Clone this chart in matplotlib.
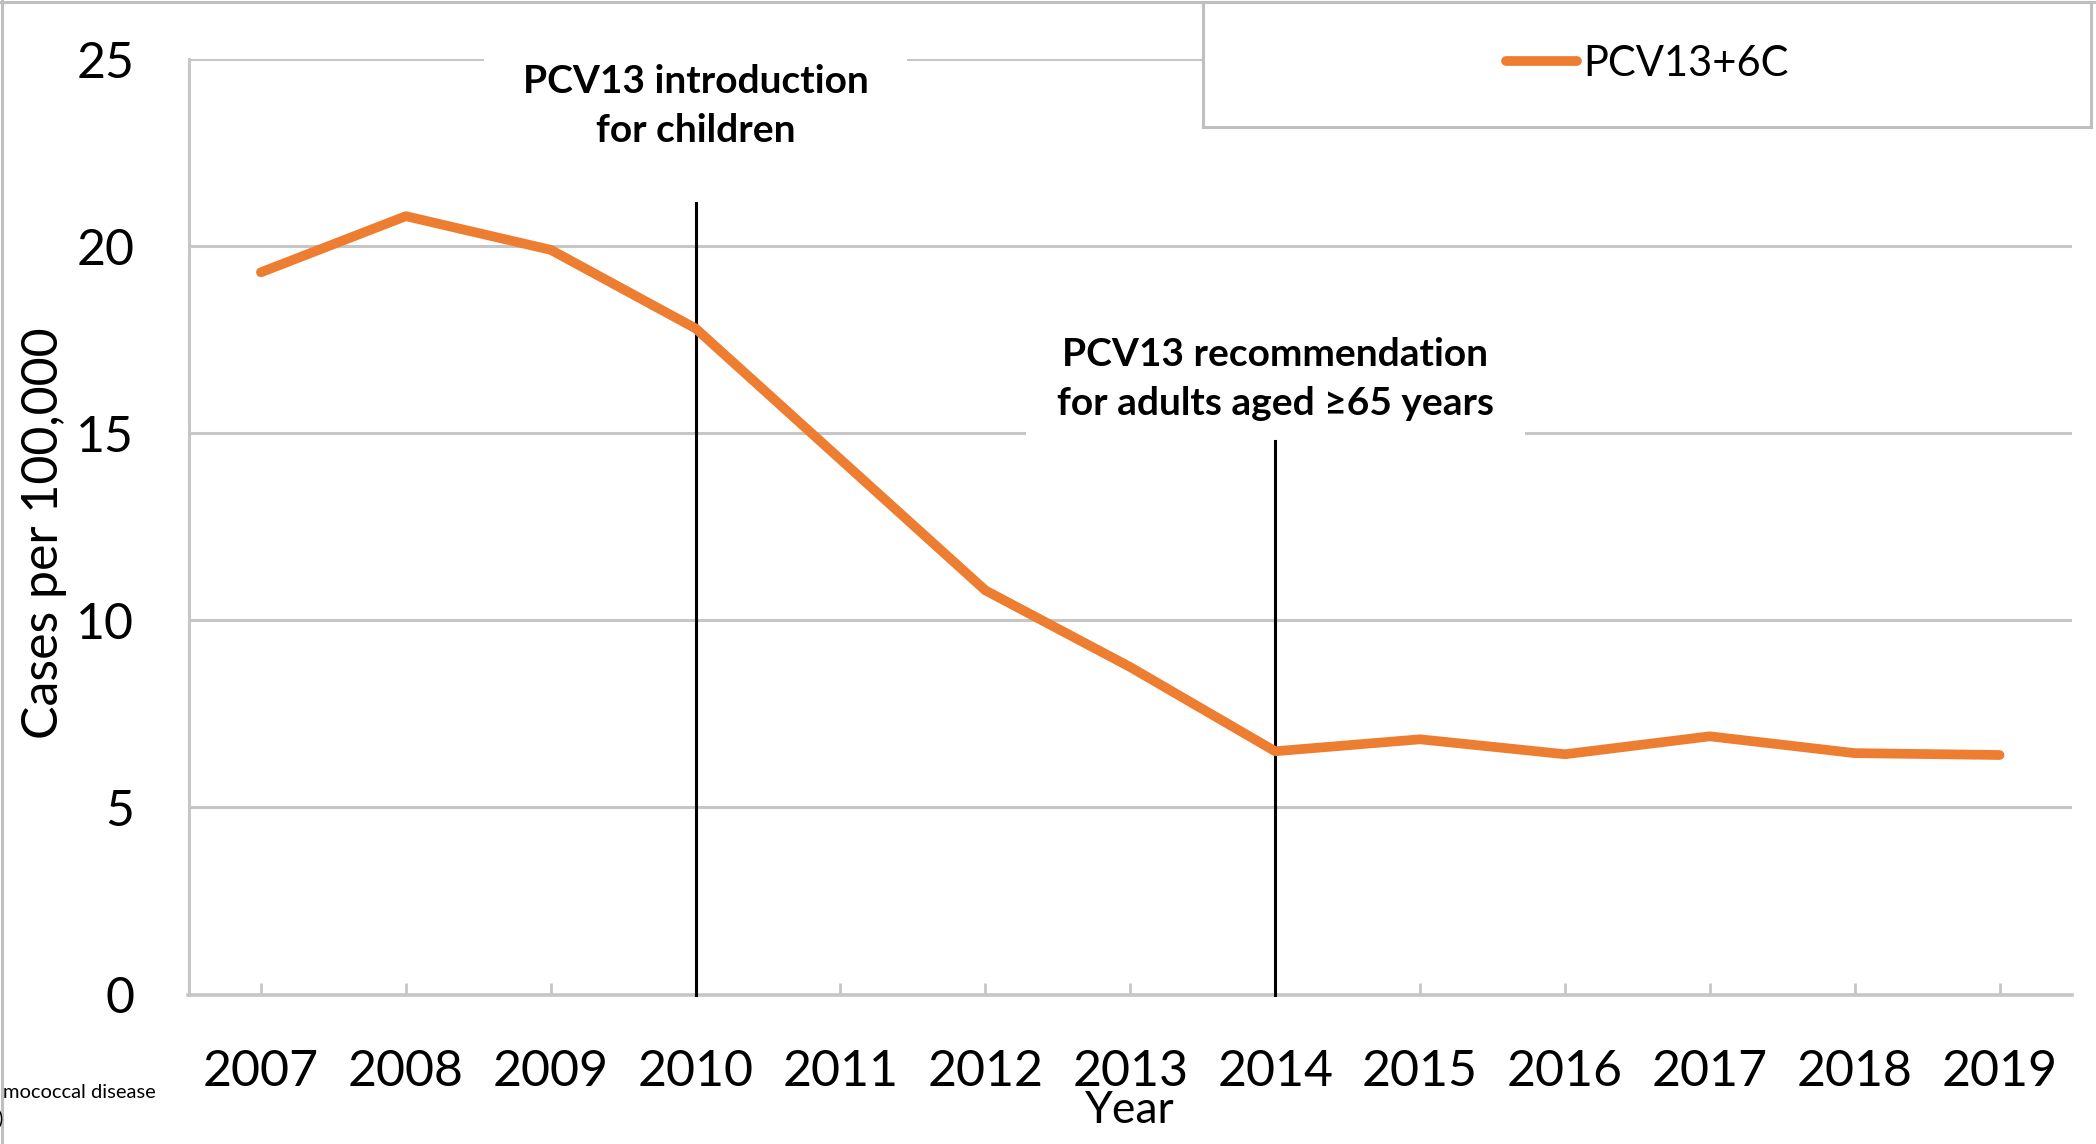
import matplotlib
matplotlib.use('Agg')
import matplotlib.pyplot as plt
from matplotlib.patches import Rectangle
from matplotlib.lines import Line2D

plt.rcParams['font.family'] = ['Lato', 'DejaVu Sans']

# data
years = [2007, 2008, 2009, 2010, 2011, 2012, 2013, 2014, 2015, 2016, 2017, 2018, 2019]
cases = [19.3, 20.8, 19.9, 17.8, 14.3, 10.8, 8.75, 6.5, 6.82, 6.42, 6.9, 6.45, 6.4]
series_name = 'PCV13+6C'
event_years = [2010, 2014]
event_tops = [21.15, 14.8]
event_labels = ['PCV13 introduction\nfor children',
                'PCV13 recommendation\nfor adults aged \u226565 years']
event_label_y = [23.75, 16.45]
y_ticks = [0, 5, 10, 15, 20, 25]

W, H = 2096, 1144
orange = '#ED7D31'
grid_gray = '#C6C6C6'
label_pads = [1.0, 0.8]

fig = plt.figure(figsize=(W / 100, H / 100), dpi=100)
ax = fig.add_axes([188.5 / W, 149.5 / H, (2072 - 188.5) / W, 935.5 / H])

ax.set_xlim(2006.5, 2019.5)
ax.set_ylim(0, 25)
ax.set_yticks(y_ticks)
ax.set_xticks(years)
ax.set_xticklabels([str(y) for y in years])
ax.yaxis.grid(True, color=grid_gray, lw=2.2, zorder=0)
ax.set_axisbelow(True)

for s in ['top', 'right']:
    ax.spines[s].set_visible(False)
ax.spines['left'].set_color(grid_gray)
ax.spines['left'].set_linewidth(2.2)
ax.spines['bottom'].set_color(grid_gray)
ax.spines['bottom'].set_linewidth(2.6)

ax.tick_params(axis='y', length=0, pad=39, labelsize=36)
ax.tick_params(axis='x', direction='in', length=8.6, width=2, color=grid_gray,
               pad=39, labelsize=36)

# data line
line, = ax.plot(years, cases, color=orange, lw=7, solid_capstyle='round',
                solid_joinstyle='round', zorder=5, label=series_name)

# vertical event lines and their labels (white box hides the gridline behind)
for yr, top, lab, ly, pad in zip(event_years, event_tops, event_labels,
                                 event_label_y, label_pads):
    ax.plot([yr, yr], [0, top], color='black', lw=2.2, zorder=4, clip_on=False)
    ax.text(yr, ly, lab, fontsize=28, fontweight='bold', ha='center', va='center',
            linespacing=1.5, zorder=3,
            bbox=dict(boxstyle=f'square,pad={pad}', facecolor='white', edgecolor='none'))

ax.set_xlabel('Year', fontsize=32, va='center')
ax.xaxis.set_label_coords(0.5, -0.1245)
ax.set_ylabel('Cases per 100,000', fontsize=36, va='center')
ax.yaxis.set_label_coords(-0.0767, 0.493)

# legend box
box = Rectangle((1203 / W, 1 - 127 / H), (2091 - 1203) / W, 125 / H,
                transform=fig.transFigure, facecolor='white', edgecolor='#BFBFBF',
                lw=2.2, zorder=10)
fig.patches.append(box)
leg = fig.legend(handles=[line], loc='center', frameon=False, fontsize=30,
                 handlelength=1.7, handletextpad=0.15,
                 bbox_to_anchor=((1203 + 2091) / 2 / W, 1 - 64 / H),
                 bbox_transform=fig.transFigure)
leg.set_zorder(11)

# figure border (top and left)
fig.lines.append(Line2D([0, 1], [1 - 1.5 / H, 1 - 1.5 / H], transform=fig.transFigure,
                        color='#BFBFBF', lw=2.2))
fig.lines.append(Line2D([1.5 / W, 1.5 / W], [0, 1], transform=fig.transFigure,
                        color='#BFBFBF', lw=2.2))

# clipped footnote fragment
fig.text(3 / W, 1 - 1092 / H, 'mococcal disease', fontsize=14.5, ha='left', va='center')
fig.text(-3 / W, 1 - 1118 / H, ')', fontsize=14.5, ha='left', va='center')

fig.savefig('out.png', dpi=100, facecolor='white')
